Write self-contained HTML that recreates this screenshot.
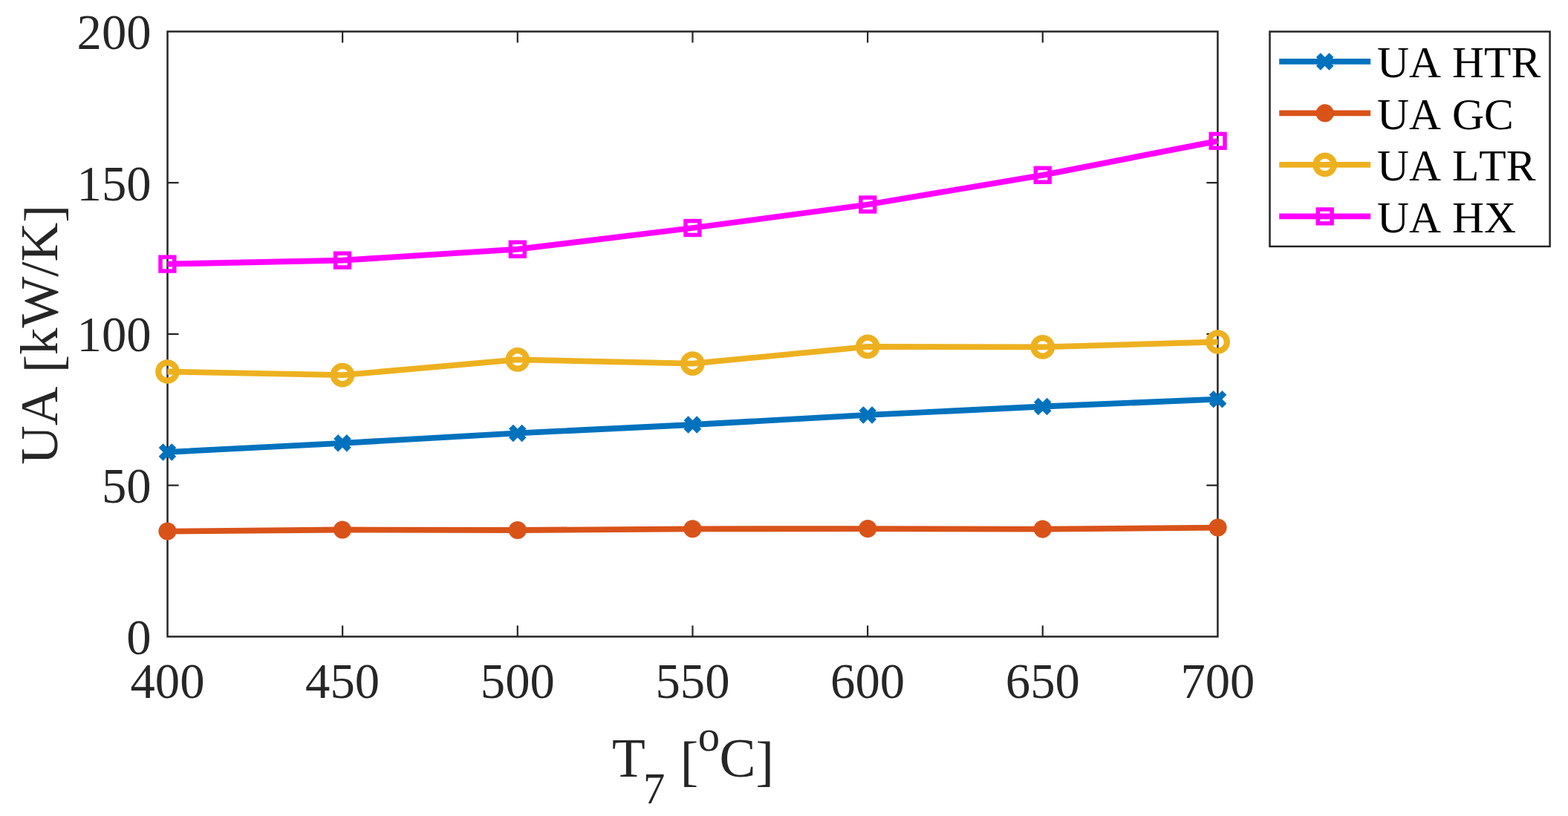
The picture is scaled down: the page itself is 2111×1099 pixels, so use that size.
<!DOCTYPE html>
<html><head><meta charset="utf-8"><title>UA vs T7</title>
<style>
html,body{margin:0;padding:0;background:#fff;}
body{width:2111px;height:1099px;overflow:hidden;}
svg{display:block;}
text{font-family:"Liberation Serif","Times New Roman",serif;font-kerning:none;font-feature-settings:"kern" 0;}
</style></head><body>
<svg width="2111" height="1099" viewBox="0 0 2111 1099">
<rect width="2111" height="1099" fill="#fff"/>

<rect x="225.5" y="42.45" width="1413.90" height="814.95" fill="none" stroke="#262626" stroke-width="2.5"/>
<path d="M461.15,857.4V842.4M461.15,42.45V57.45M696.80,857.4V842.4M696.80,42.45V57.45M932.45,857.4V842.4M932.45,42.45V57.45M1168.10,857.4V842.4M1168.10,42.45V57.45M1403.75,857.4V842.4M1403.75,42.45V57.45M225.5,653.66H240.5M1639.4,653.66H1624.4M225.5,449.93H240.5M1639.4,449.93H1624.4M225.5,246.19H240.5M1639.4,246.19H1624.4" stroke="#262626" stroke-width="2.2" fill="none"/>
<g font-size="66.7" fill="#262626" text-anchor="end">
<text x="203.6" y="880.9">0</text>
<text x="203.6" y="677.2">50</text>
<text x="203.6" y="473.4">100</text>
<text x="203.6" y="269.7">150</text>
<text x="203.6" y="66.0">200</text>
</g>
<g font-size="66.7" fill="#262626" text-anchor="middle">
<text x="225.5" y="940">400</text>
<text x="461.1" y="940">450</text>
<text x="696.8" y="940">500</text>
<text x="932.5" y="940">550</text>
<text x="1168.1" y="940">600</text>
<text x="1403.8" y="940">650</text>
<text x="1639.4" y="940">700</text>
</g>
<text font-size="72.9" fill="#262626" text-anchor="middle" transform="translate(77.3,450.75) rotate(-90)">UA <tspan dy="4.3">[</tspan><tspan dy="-4.3">kW/K</tspan><tspan dy="4.3">]</tspan></text>
<text font-size="73.3" fill="#262626"><tspan x="824.0" y="1045.7">T</tspan><tspan x="866.0" y="1081.8" font-size="58.6">7</tspan><tspan x="915.8" y="1049.5">[</tspan><tspan x="939.7" y="1010.7" font-size="58.6">o</tspan><tspan x="968.4" y="1045.7">C</tspan><tspan x="1017.5" y="1049.5">]</tspan></text>
<polyline points="225.4,608.9 461.0,596.8 696.8,583.4 932.4,572.0 1168.2,558.9 1403.7,547.5 1639.6,537.7" fill="none" stroke="#0072BD" stroke-width="7.8" stroke-linejoin="round" stroke-linecap="butt"/>
<path d="M216.60,600.10L234.20,617.70M216.60,617.70L234.20,600.10" stroke="#0072BD" stroke-width="8.4" fill="none" stroke-linecap="butt"/>
<path d="M452.20,588.00L469.80,605.60M452.20,605.60L469.80,588.00" stroke="#0072BD" stroke-width="8.4" fill="none" stroke-linecap="butt"/>
<path d="M688.00,574.60L705.60,592.20M688.00,592.20L705.60,574.60" stroke="#0072BD" stroke-width="8.4" fill="none" stroke-linecap="butt"/>
<path d="M923.60,563.20L941.20,580.80M923.60,580.80L941.20,563.20" stroke="#0072BD" stroke-width="8.4" fill="none" stroke-linecap="butt"/>
<path d="M1159.40,550.10L1177.00,567.70M1159.40,567.70L1177.00,550.10" stroke="#0072BD" stroke-width="8.4" fill="none" stroke-linecap="butt"/>
<path d="M1394.90,538.70L1412.50,556.30M1394.90,556.30L1412.50,538.70" stroke="#0072BD" stroke-width="8.4" fill="none" stroke-linecap="butt"/>
<path d="M1630.80,528.90L1648.40,546.50M1630.80,546.50L1648.40,528.90" stroke="#0072BD" stroke-width="8.4" fill="none" stroke-linecap="butt"/>
<polyline points="225.4,715.6 461.0,713.5 696.8,714.0 932.4,712.3 1168.2,712.1 1403.7,712.6 1639.6,710.6" fill="none" stroke="#D95319" stroke-width="7.8" stroke-linejoin="round" stroke-linecap="butt"/>
<circle cx="225.40" cy="715.60" r="12.05" fill="#D95319"/>
<circle cx="461.00" cy="713.50" r="12.05" fill="#D95319"/>
<circle cx="696.80" cy="714.00" r="12.05" fill="#D95319"/>
<circle cx="932.40" cy="712.30" r="12.05" fill="#D95319"/>
<circle cx="1168.20" cy="712.10" r="12.05" fill="#D95319"/>
<circle cx="1403.70" cy="712.60" r="12.05" fill="#D95319"/>
<circle cx="1639.60" cy="710.60" r="12.05" fill="#D95319"/>
<polyline points="225.4,500.5 461.0,505.1 696.8,484.4 932.4,489.6 1168.2,466.9 1403.7,467.4 1639.6,460.5" fill="none" stroke="#EDB120" stroke-width="7.8" stroke-linejoin="round" stroke-linecap="butt"/>
<circle cx="225.40" cy="500.50" r="12.2" fill="none" stroke="#EDB120" stroke-width="8.2"/>
<circle cx="461.00" cy="505.10" r="12.2" fill="none" stroke="#EDB120" stroke-width="8.2"/>
<circle cx="696.80" cy="484.40" r="12.2" fill="none" stroke="#EDB120" stroke-width="8.2"/>
<circle cx="932.40" cy="489.60" r="12.2" fill="none" stroke="#EDB120" stroke-width="8.2"/>
<circle cx="1168.20" cy="466.90" r="12.2" fill="none" stroke="#EDB120" stroke-width="8.2"/>
<circle cx="1403.70" cy="467.40" r="12.2" fill="none" stroke="#EDB120" stroke-width="8.2"/>
<circle cx="1639.60" cy="460.50" r="12.2" fill="none" stroke="#EDB120" stroke-width="8.2"/>
<polyline points="225.4,355.6 461.0,350.6 696.8,335.7 932.4,307.0 1168.2,275.5 1403.7,235.8 1639.6,189.8" fill="none" stroke="#FF00FF" stroke-width="7.8" stroke-linejoin="round" stroke-linecap="butt"/>
<rect x="216.00" y="346.20" width="18.8" height="18.8" fill="none" stroke="#FF00FF" stroke-width="5.5"/>
<rect x="451.60" y="341.20" width="18.8" height="18.8" fill="none" stroke="#FF00FF" stroke-width="5.5"/>
<rect x="687.40" y="326.30" width="18.8" height="18.8" fill="none" stroke="#FF00FF" stroke-width="5.5"/>
<rect x="923.00" y="297.60" width="18.8" height="18.8" fill="none" stroke="#FF00FF" stroke-width="5.5"/>
<rect x="1158.80" y="266.10" width="18.8" height="18.8" fill="none" stroke="#FF00FF" stroke-width="5.5"/>
<rect x="1394.30" y="226.40" width="18.8" height="18.8" fill="none" stroke="#FF00FF" stroke-width="5.5"/>
<rect x="1630.20" y="180.40" width="18.8" height="18.8" fill="none" stroke="#FF00FF" stroke-width="5.5"/>
<rect x="1709.5" y="42.55" width="377.1" height="289.35" fill="#fff" stroke="#262626" stroke-width="2.5"/>
<line x1="1722.2" y1="82.9" x2="1845.2" y2="82.9" stroke="#0072BD" stroke-width="7.8"/>
<path d="M1774.90,74.10L1792.50,91.70M1774.90,91.70L1792.50,74.10" stroke="#0072BD" stroke-width="8.4" fill="none" stroke-linecap="butt"/>
<text x="1854.0" y="104.0" font-size="59.6" fill="#000">UA HTR</text>
<line x1="1722.2" y1="152.4" x2="1845.2" y2="152.4" stroke="#D95319" stroke-width="7.8"/>
<circle cx="1783.70" cy="152.40" r="12.05" fill="#D95319"/>
<text x="1854.0" y="173.5" font-size="59.6" fill="#000">UA GC</text>
<line x1="1722.2" y1="221.9" x2="1845.2" y2="221.9" stroke="#EDB120" stroke-width="7.8"/>
<circle cx="1783.70" cy="221.90" r="12.2" fill="none" stroke="#EDB120" stroke-width="8.2"/>
<text x="1854.0" y="243.0" font-size="59.6" fill="#000">UA LTR</text>
<line x1="1722.2" y1="291.4" x2="1845.2" y2="291.4" stroke="#FF00FF" stroke-width="7.8"/>
<rect x="1774.30" y="282.00" width="18.8" height="18.8" fill="none" stroke="#FF00FF" stroke-width="5.5"/>
<text x="1854.0" y="312.5" font-size="59.6" fill="#000">UA HX</text>
</svg>
</body></html>
